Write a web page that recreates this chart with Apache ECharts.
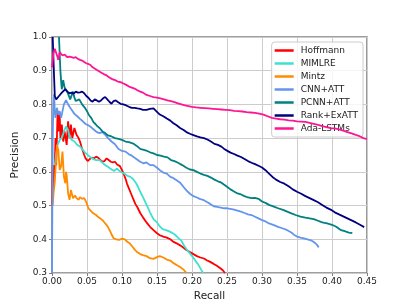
<!DOCTYPE html>
<html>
<head>
<meta charset="utf-8">
<script src="https://cdn.jsdelivr.net/npm/echarts@6/dist/echarts.min.js"></script>
<style>html,body{margin:0;padding:0;background:#fff}#c{width:409px;height:307px}</style>
</head>
<body>
<div id="c"></div>
<script>
const seriesNames = ['Hoffmann','MIMLRE','Mintz','CNN+ATT','PCNN+ATT','Rank+ExATT','Ada-LSTMs'];
const seriesColors = ['#ff0000','#40e0d0','#ff8c00','#6495ed','#008080','#000080','#ff1493'];
const xTicks = [0,0.05,0.10,0.15,0.20,0.25,0.30,0.35,0.40,0.45];
const yTicks = [0.3,0.4,0.5,0.6,0.7,0.8,0.9,1.0];

const hoffmann = [[0,0.50],[0.001,0.62],[0.003,0.55],[0.005,0.70],[0.006,0.62],[0.008,0.78],[0.009,0.72],[0.011,0.77],[0.012,0.70],[0.014,0.74],[0.016,0.69],[0.018,0.72],[0.021,0.68],[0.023,0.75],[0.025,0.70],[0.027,0.74],[0.029,0.70],[0.032,0.73],[0.035,0.71],[0.038,0.70],[0.040,0.69],[0.042,0.675],[0.044,0.68],[0.046,0.65],[0.048,0.64],[0.051,0.632],[0.054,0.638],[0.057,0.642],[0.060,0.64],[0.063,0.645],[0.066,0.642],[0.069,0.635],[0.072,0.63],[0.075,0.632],[0.078,0.64],[0.081,0.635],[0.084,0.63],[0.087,0.628],[0.090,0.63],[0.093,0.622],[0.097,0.617],[0.100,0.605],[0.102,0.596],[0.105,0.58],[0.107,0.566],[0.110,0.55],[0.113,0.535],[0.116,0.52],[0.119,0.505],[0.122,0.495],[0.126,0.478],[0.130,0.465],[0.135,0.45],[0.140,0.437],[0.145,0.427],[0.150,0.418],[0.154,0.412],[0.159,0.408],[0.164,0.405],[0.169,0.40],[0.173,0.393],[0.178,0.388],[0.183,0.382],[0.188,0.375],[0.192,0.368],[0.197,0.362],[0.202,0.356],[0.207,0.35],[0.212,0.346],[0.217,0.343],[0.221,0.338],[0.226,0.333],[0.231,0.327],[0.235,0.322],[0.240,0.315],[0.244,0.308],[0.247,0.300]];

const mimlre = [[0.004,0.62],[0.006,0.655],[0.008,0.68],[0.011,0.695],[0.014,0.70],[0.017,0.72],[0.020,0.735],[0.023,0.725],[0.025,0.705],[0.028,0.695],[0.032,0.69],[0.036,0.68],[0.040,0.675],[0.043,0.668],[0.047,0.658],[0.051,0.65],[0.055,0.643],[0.059,0.638],[0.063,0.635],[0.068,0.635],[0.072,0.627],[0.076,0.62],[0.080,0.615],[0.085,0.607],[0.089,0.603],[0.093,0.61],[0.096,0.603],[0.100,0.598],[0.104,0.594],[0.108,0.588],[0.112,0.585],[0.116,0.578],[0.120,0.567],[0.123,0.555],[0.126,0.541],[0.130,0.525],[0.135,0.503],[0.140,0.48],[0.145,0.46],[0.150,0.45],[0.154,0.438],[0.158,0.43],[0.163,0.427],[0.169,0.422],[0.175,0.415],[0.180,0.405],[0.185,0.395],[0.189,0.38],[0.193,0.368],[0.197,0.358],[0.201,0.348],[0.205,0.336],[0.209,0.325],[0.213,0.31],[0.216,0.300]];

const mintz = [[0.001,0.50],[0.002,0.53],[0.004,0.576],[0.006,0.635],[0.007,0.68],[0.009,0.665],[0.011,0.606],[0.013,0.616],[0.015,0.66],[0.017,0.586],[0.019,0.566],[0.020,0.60],[0.021,0.59],[0.023,0.536],[0.025,0.517],[0.027,0.546],[0.030,0.522],[0.033,0.53],[0.035,0.522],[0.038,0.517],[0.040,0.525],[0.043,0.52],[0.046,0.522],[0.049,0.51],[0.052,0.492],[0.055,0.485],[0.059,0.477],[0.063,0.472],[0.066,0.466],[0.069,0.462],[0.073,0.455],[0.076,0.447],[0.079,0.44],[0.082,0.428],[0.085,0.415],[0.088,0.403],[0.092,0.4],[0.096,0.398],[0.100,0.402],[0.104,0.40],[0.108,0.392],[0.111,0.388],[0.115,0.378],[0.118,0.37],[0.121,0.363],[0.126,0.356],[0.130,0.353],[0.135,0.35],[0.140,0.344],[0.145,0.342],[0.150,0.347],[0.154,0.35],[0.159,0.346],[0.164,0.34],[0.169,0.337],[0.173,0.33],[0.178,0.324],[0.183,0.318],[0.188,0.31],[0.192,0.30]];

const cnnAtt = [[0,0.30],[0.001,0.70],[0.002,0.80],[0.003,0.83],[0.004,0.78],[0.005,0.76],[0.007,0.79],[0.009,0.77],[0.011,0.78],[0.013,0.76],[0.015,0.78],[0.017,0.80],[0.020,0.813],[0.023,0.80],[0.026,0.79],[0.028,0.784],[0.032,0.772],[0.036,0.765],[0.040,0.757],[0.044,0.75],[0.048,0.742],[0.052,0.738],[0.056,0.732],[0.060,0.725],[0.064,0.718],[0.068,0.715],[0.072,0.718],[0.076,0.71],[0.080,0.70],[0.085,0.69],[0.090,0.682],[0.095,0.668],[0.100,0.662],[0.105,0.66],[0.110,0.652],[0.114,0.648],[0.118,0.642],[0.122,0.636],[0.126,0.63],[0.131,0.625],[0.135,0.628],[0.140,0.62],[0.145,0.62],[0.150,0.612],[0.154,0.605],[0.159,0.598],[0.164,0.595],[0.169,0.585],[0.173,0.582],[0.178,0.575],[0.183,0.568],[0.188,0.555],[0.192,0.545],[0.197,0.535],[0.202,0.528],[0.207,0.524],[0.211,0.52],[0.217,0.516],[0.222,0.51],[0.226,0.505],[0.231,0.498],[0.236,0.496],[0.241,0.494],[0.246,0.492],[0.250,0.492],[0.255,0.49],[0.260,0.488],[0.265,0.485],[0.270,0.482],[0.275,0.478],[0.280,0.474],[0.285,0.472],[0.290,0.467],[0.295,0.462],[0.300,0.457],[0.305,0.453],[0.310,0.447],[0.317,0.442],[0.323,0.437],[0.330,0.432],[0.336,0.427],[0.342,0.42],[0.346,0.413],[0.350,0.408],[0.355,0.405],[0.360,0.403],[0.365,0.40],[0.370,0.397],[0.374,0.392],[0.378,0.385],[0.381,0.376]];

const pcnnAtt = [[0.010,1.0],[0.011,0.95],[0.012,0.90],[0.013,0.87],[0.014,0.845],[0.016,0.872],[0.018,0.85],[0.020,0.845],[0.022,0.836],[0.024,0.826],[0.026,0.815],[0.028,0.82],[0.030,0.838],[0.032,0.82],[0.034,0.81],[0.036,0.806],[0.039,0.815],[0.041,0.82],[0.043,0.80],[0.045,0.795],[0.047,0.79],[0.050,0.78],[0.053,0.768],[0.056,0.76],[0.059,0.748],[0.062,0.742],[0.065,0.735],[0.068,0.73],[0.072,0.72],[0.076,0.715],[0.080,0.708],[0.085,0.705],[0.090,0.70],[0.095,0.698],[0.100,0.695],[0.105,0.69],[0.110,0.688],[0.116,0.684],[0.121,0.677],[0.126,0.668],[0.131,0.665],[0.136,0.662],[0.140,0.658],[0.145,0.655],[0.150,0.65],[0.155,0.648],[0.160,0.645],[0.165,0.643],[0.170,0.635],[0.175,0.632],[0.180,0.627],[0.186,0.62],[0.192,0.612],[0.197,0.607],[0.202,0.605],[0.207,0.6],[0.212,0.595],[0.217,0.591],[0.222,0.588],[0.227,0.583],[0.232,0.577],[0.237,0.572],[0.242,0.568],[0.246,0.562],[0.250,0.556],[0.255,0.548],[0.260,0.542],[0.265,0.536],[0.270,0.533],[0.275,0.528],[0.280,0.524],[0.285,0.522],[0.290,0.523],[0.295,0.52],[0.300,0.512],[0.305,0.508],[0.310,0.502],[0.317,0.497],[0.323,0.492],[0.330,0.487],[0.336,0.482],[0.342,0.477],[0.348,0.472],[0.355,0.467],[0.362,0.464],[0.368,0.462],[0.374,0.46],[0.380,0.455],[0.386,0.45],[0.393,0.447],[0.400,0.443],[0.406,0.437],[0.412,0.428],[0.418,0.424],[0.424,0.42],[0.429,0.418]];

const rankExAtt = [[0.001,1.0],[0.002,0.94],[0.003,0.88],[0.004,0.825],[0.006,0.815],[0.008,0.812],[0.010,0.825],[0.012,0.822],[0.014,0.835],[0.016,0.84],[0.019,0.845],[0.022,0.838],[0.025,0.833],[0.028,0.835],[0.031,0.832],[0.034,0.838],[0.037,0.835],[0.040,0.836],[0.043,0.838],[0.046,0.833],[0.049,0.825],[0.052,0.82],[0.055,0.812],[0.058,0.808],[0.061,0.815],[0.064,0.812],[0.067,0.808],[0.070,0.812],[0.073,0.818],[0.076,0.822],[0.079,0.815],[0.082,0.808],[0.085,0.802],[0.088,0.81],[0.091,0.812],[0.094,0.807],[0.098,0.802],[0.102,0.80],[0.106,0.797],[0.110,0.793],[0.114,0.79],[0.118,0.79],[0.122,0.788],[0.126,0.787],[0.130,0.784],[0.135,0.784],[0.140,0.787],[0.145,0.788],[0.150,0.778],[0.154,0.77],[0.159,0.765],[0.164,0.758],[0.169,0.752],[0.173,0.745],[0.178,0.738],[0.183,0.73],[0.188,0.724],[0.192,0.718],[0.197,0.713],[0.202,0.709],[0.207,0.705],[0.212,0.702],[0.217,0.70],[0.222,0.696],[0.227,0.69],[0.232,0.683],[0.237,0.68],[0.242,0.675],[0.246,0.668],[0.250,0.663],[0.255,0.657],[0.260,0.653],[0.265,0.648],[0.270,0.644],[0.275,0.638],[0.280,0.632],[0.285,0.627],[0.290,0.623],[0.295,0.618],[0.300,0.613],[0.305,0.605],[0.310,0.595],[0.315,0.585],[0.320,0.577],[0.326,0.57],[0.332,0.565],[0.338,0.557],[0.344,0.548],[0.350,0.541],[0.356,0.535],[0.362,0.528],[0.368,0.522],[0.374,0.516],[0.380,0.51],[0.386,0.502],[0.392,0.494],[0.398,0.488],[0.404,0.48],[0.410,0.474],[0.416,0.468],[0.422,0.462],[0.428,0.456],[0.434,0.45],[0.440,0.443],[0.446,0.436]];

const adaLstms = [[0.000,0.91],[0.002,0.95],[0.004,0.965],[0.006,0.97],[0.008,0.94],[0.009,0.932],[0.011,0.955],[0.013,0.952],[0.015,0.945],[0.018,0.948],[0.020,0.95],[0.022,0.94],[0.025,0.942],[0.028,0.94],[0.031,0.938],[0.034,0.94],[0.037,0.935],[0.040,0.932],[0.043,0.93],[0.046,0.926],[0.049,0.922],[0.052,0.92],[0.055,0.917],[0.058,0.91],[0.062,0.905],[0.066,0.90],[0.070,0.895],[0.074,0.89],[0.078,0.886],[0.082,0.88],[0.086,0.875],[0.090,0.872],[0.094,0.868],[0.098,0.866],[0.102,0.862],[0.106,0.858],[0.110,0.853],[0.114,0.85],[0.118,0.847],[0.122,0.842],[0.126,0.838],[0.130,0.835],[0.135,0.828],[0.140,0.825],[0.145,0.822],[0.150,0.82],[0.155,0.818],[0.160,0.815],[0.165,0.812],[0.170,0.81],[0.175,0.807],[0.180,0.803],[0.185,0.8],[0.190,0.797],[0.195,0.795],[0.200,0.793],[0.206,0.791],[0.212,0.79],[0.218,0.789],[0.224,0.788],[0.230,0.787],[0.236,0.786],[0.242,0.785],[0.248,0.784],[0.254,0.783],[0.260,0.781],[0.266,0.78],[0.272,0.779],[0.278,0.777],[0.284,0.776],[0.290,0.775],[0.296,0.773],[0.302,0.77],[0.308,0.765],[0.314,0.76],[0.320,0.758],[0.326,0.756],[0.332,0.755],[0.338,0.753],[0.344,0.752],[0.350,0.75],[0.356,0.749],[0.362,0.748],[0.368,0.745],[0.374,0.742],[0.380,0.739],[0.386,0.736],[0.392,0.733],[0.398,0.73],[0.404,0.729],[0.410,0.726],[0.416,0.722],[0.422,0.718],[0.428,0.714],[0.434,0.71],[0.440,0.705],[0.445,0.70],[0.450,0.697]];

const allData = [hoffmann, mimlre, mintz, cnnAtt, pcnnAtt, rankExAtt, adaLstms];
const FONT = 'DejaVu Sans';

const chart = echarts.init(document.getElementById('c'), null, {renderer: 'canvas'});
chart.setOption({
  animation: false,
  backgroundColor: '#ffffff',
  grid: {left: 52, right: 42, top: 37, bottom: 34, show: true, borderColor: '#808080', borderWidth: 1.6, backgroundColor: 'transparent'},
  legend: {
    orient: 'vertical', right: 46, top: 42,
    data: seriesNames,
    icon: 'rect', itemWidth: 19, itemHeight: 2.5, itemGap: 0,
    backgroundColor: 'rgba(255,255,255,0.8)', borderColor: '#cccccc', borderWidth: 1, borderRadius: 3,
    padding: [2, 5, 2, 3],
    textStyle: {fontFamily: FONT, fontSize: 9, color: '#222', lineHeight: 13, padding: [0, 0, 0, 2]}
  },
  xAxis: {
    type: 'value', min: 0, max: 0.45, interval: 0.05,
    name: 'Recall', nameLocation: 'middle', nameGap: 17,
    nameTextStyle: {fontFamily: FONT, fontSize: 10.5, color: '#222'},
    axisLine: {show: false},
    axisTick: {show: true, length: 3, lineStyle: {color: '#808080'}},
    axisLabel: {fontFamily: FONT, fontSize: 9, color: '#222', margin: 4, formatter: v => v.toFixed(2)},
    splitLine: {show: true, lineStyle: {color: '#cccccc', width: 1}}
  },
  yAxis: {
    type: 'value', min: 0.3, max: 1.0, interval: 0.1,
    name: 'Precision', nameLocation: 'middle', nameGap: 31,
    nameTextStyle: {fontFamily: FONT, fontSize: 10.5, color: '#222'},
    axisLine: {show: false},
    axisTick: {show: true, length: 3, lineStyle: {color: '#808080'}},
    axisLabel: {fontFamily: FONT, fontSize: 9, color: '#222', margin: 5, formatter: v => v.toFixed(1)},
    splitLine: {show: true, lineStyle: {color: '#cccccc', width: 1}}
  },
  series: seriesNames.map((n, i) => ({
    name: n, type: 'line', data: allData[i], showSymbol: false, symbol: 'none',
    clip: true, z: 2 + i,
    lineStyle: {color: seriesColors[i], width: 1.8}, itemStyle: {color: seriesColors[i]}
  }))
});
</script>
</body>
</html>
